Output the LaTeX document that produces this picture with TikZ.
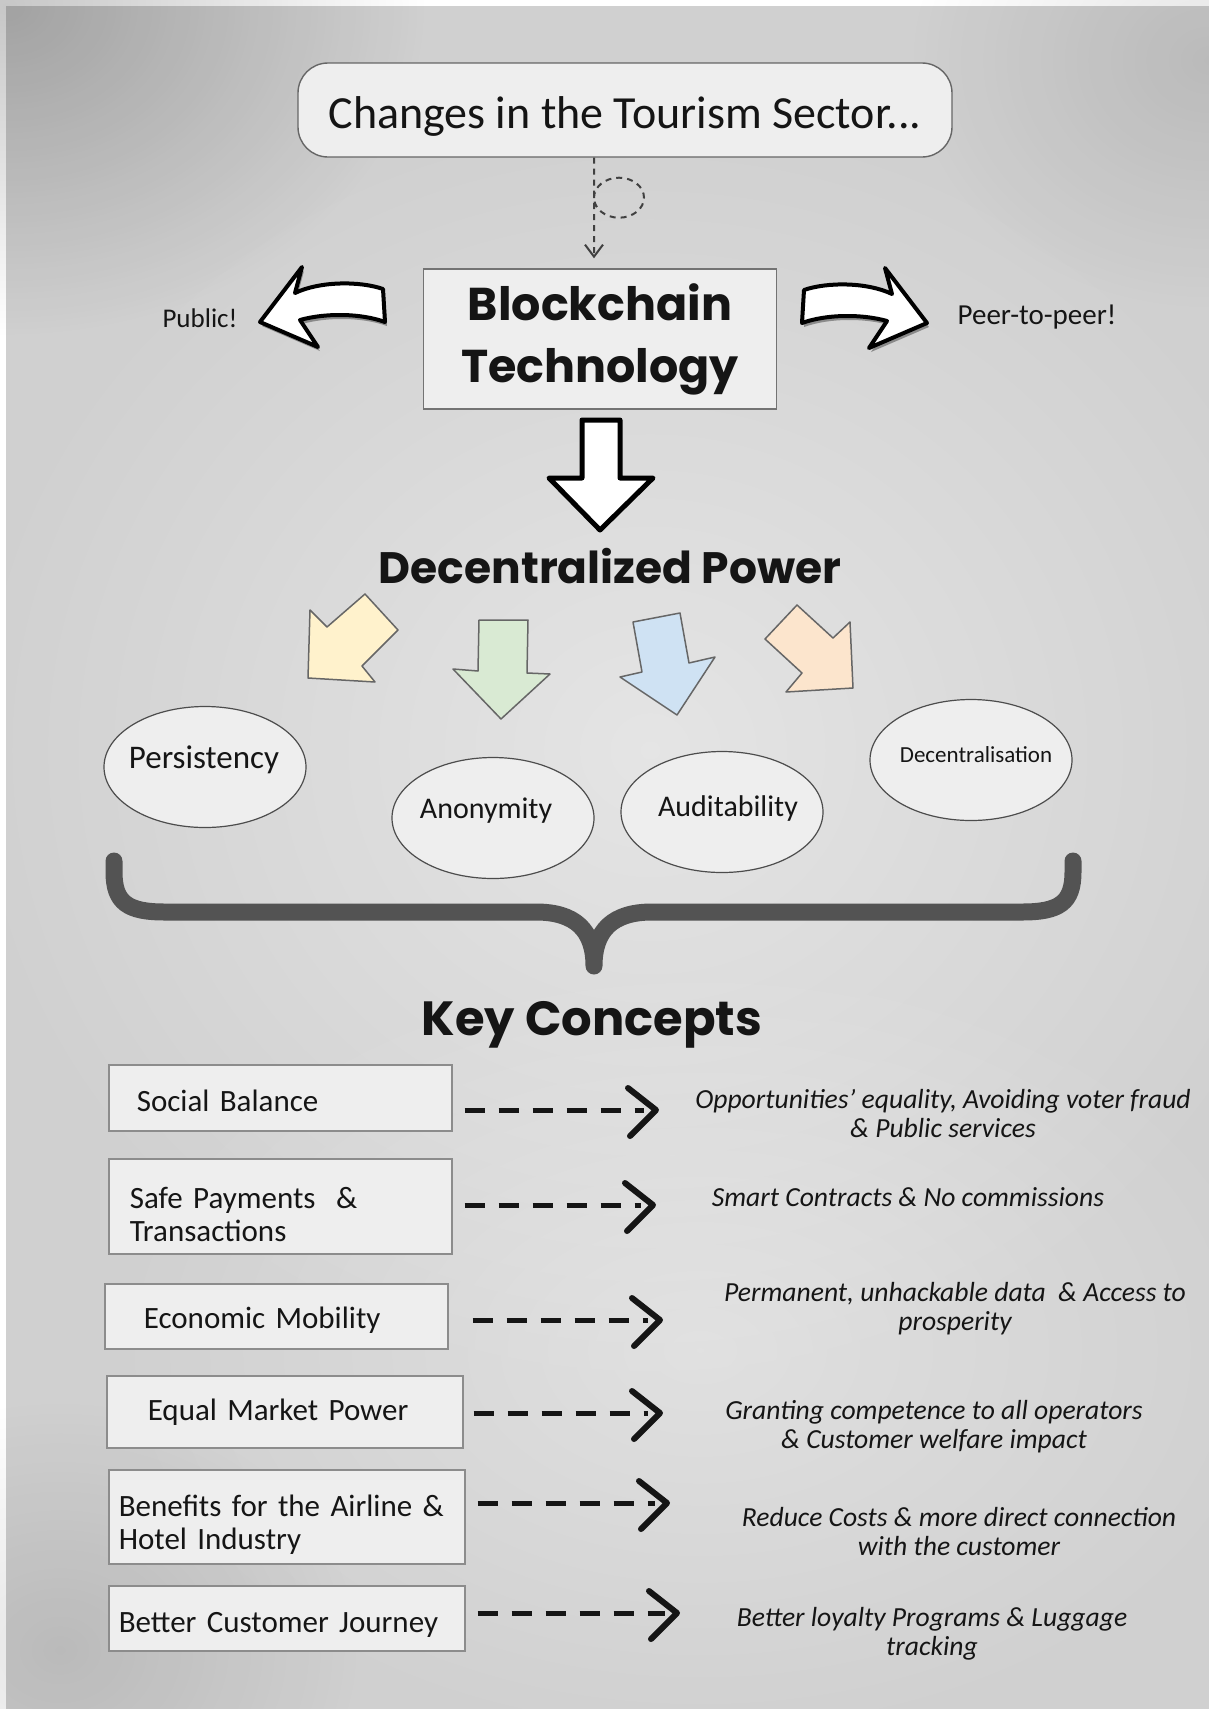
\documentclass[tikz,border=0pt]{standalone}
\usepackage{fontspec}
\usepackage{graphicx}
\setmainfont{Carlito}
\newfontfamily\headfont{Poppins}
\usetikzlibrary{shapes.geometric,arrows.meta,fadings}
\tikzfading[name=softfade, inner color=transparent!0, outer color=transparent!100]
\definecolor{bgcol}{HTML}{D0D0D0}
\definecolor{boxfill}{HTML}{EEEEEE}
\definecolor{ayellow}{HTML}{FFF2CC}
\definecolor{agreen}{HTML}{D9EAD3}
\definecolor{ablue}{HTML}{CFE2F3}
\definecolor{aorange}{HTML}{FCE5CD}
\definecolor{bracecol}{HTML}{535353}
\definecolor{ink}{HTML}{151515}
\begin{document}
\begin{tikzpicture}[x=0.5pt,y=-0.5pt,
  every node/.style={text=ink},
  titlebox/.style={draw=black!60, line width=0.7pt, fill=boxfill, rounded corners=15pt,
    minimum width=327pt, minimum height=47pt, inner sep=0pt, font=\fontsize{23}{26}\selectfont},
  bigbox/.style={draw=black!55, line width=0.7pt, fill=boxfill, minimum width=176.5pt,
    minimum height=70pt, inner sep=0pt, align=center, font=\headfont\bfseries\fontsize{23}{31}\selectfont},
  headline/.style={inner sep=0pt, font=\headfont\bfseries\fontsize{#1}{#1}\selectfont},
  ell/.style={ellipse, draw=black!70, line width=0.6pt, fill=boxfill, minimum width=101pt,
    minimum height=60.5pt, inner sep=0pt},
  elltext/.style={inner sep=0pt, font=\fontsize{#1}{#1}\selectfont},
  sidetext/.style={inner sep=0pt, font=\fontsize{#1}{#1}\selectfont},
  keybox/.style={draw=black!45, line width=0.8pt, fill=boxfill, anchor=north west, align=left,
    inner ysep=0pt, font=\fontsize{15.5}{15.5}\selectfont},
  restext/.style={align=center, inner sep=0pt, font=\itshape\fontsize{13.8}{14.5}\selectfont},
  dashline/.style={line width=2.5pt, dash pattern=on 10pt off 7pt, draw=ink},
  chev/.style={line width=3pt, line cap=round, line join=round, draw=ink},
  colarrow/.style={draw=black!60, line width=0.75pt, line join=round},
  whitearrow/.style={draw=black, line width=2pt, fill=white, line join=round},
  dashconn/.style={draw=black!75, line width=1pt, dash pattern=on 3pt off 2.5pt,
    -{Straight Barb[length=6pt,width=9pt,line width=1pt]}}
]
\useasboundingbox (0,0) rectangle (1209,1709);
% background paper
\fill[white] (0,0) rectangle (1209,1709);
\fill[bgcol] (6,6) rectangle (1209,1709);
\fill[white, opacity=0.45, path fading=softfade] (650,750) ellipse [x radius=700, y radius=650];
\fill[white, opacity=0.35, path fading=softfade] (700,1350) ellipse [x radius=600, y radius=400];
\fill[black, opacity=0.22, path fading=softfade] (6,6) ellipse [x radius=420, y radius=330];
\fill[black, opacity=0.10, path fading=softfade] (1209,60) ellipse [x radius=300, y radius=250];
\fill[black, opacity=0.10, path fading=softfade] (60,1650) ellipse [x radius=300, y radius=250];

% title
\node[titlebox] (title) at (625,110) {\rule{0pt}{22pt}Changes in the Tourism Sector...};
% blockchain box
\node[bigbox] (bc) at (600,339) {Blockchain\\Technology};
\draw[dashconn] ([xshift=-15.5pt]title.south) -- ++(0,40)
  arc[start angle=180, end angle=-180, x radius=25, y radius=20]
  -- ([xshift=-3pt,yshift=5pt]bc.north);

% side curved arrows (shadow then arrow)
\fill[black, opacity=0.35] (262,326) -- (304,271) -- (297,297) .. controls (322,285) and (362,285) .. (385,293)
  -- (387,326) .. controls (362,317) and (327,317) .. (302,324) -- (320,351) -- cycle;
\draw[whitearrow] (260,322) -- (302,267) -- (295,293) .. controls (320,281) and (360,281) .. (383,289)
  -- (385,322) .. controls (360,313) and (325,313) .. (300,320) -- (318,347) -- cycle;
\fill[black, opacity=0.35] (929,327) -- (887,272) -- (894,298) .. controls (869,286) and (829,286) .. (806,294)
  -- (804,327) .. controls (829,318) and (864,318) .. (889,325) -- (871,352) -- cycle;
\draw[whitearrow] (927,323) -- (885,268) -- (892,294) .. controls (867,282) and (827,282) .. (804,290)
  -- (802,323) .. controls (827,314) and (862,314) .. (887,321) -- (869,348) -- cycle;
\node[sidetext=13.5] (pub) at (200,318) {Public!};
\node[sidetext=14.5] (p2p) at (1037,317) {Peer-to-peer!};

% big down arrow
\draw[whitearrow, line width=2.5pt] (582,420) -- (620,420) -- (620,478) -- (653,478) -- (600,530)
  -- (549,478) -- (582,478) -- cycle;
\node[headline=22] (dp) at (610,566) {Decentralized Power};

% coloured arrows
\draw[colarrow, fill=ayellow] (310,610) -- (327,627) -- (365,594) -- (398,630) -- (362,666) -- (375,682) -- (308,678) -- cycle;
\draw[colarrow, fill=agreen] (479,620) -- (528,620) -- (527,673) -- (550,674) -- (501,719) -- (453,669) -- (478,671) -- cycle;
\draw[colarrow, fill=ablue] (633,622) -- (680,613) -- (689,663) -- (715,657) -- (677,715) -- (620,677) -- (642,672) -- cycle;
\draw[colarrow, fill=aorange] (797,605) -- (833,638) -- (850,622) -- (853,688) -- (786,692) -- (802,673) -- (765,639) -- cycle;

% ellipses
\node[ell] (e1) at (205,767) {};
\node[ell] (e2) at (493,818) {};
\node[ell] (e3) at (722,812) {};
\node[ell] (e4) at (971,760) {};
\node[elltext=16.5] (t1) at (204,760) {Persistency};
\node[elltext=15] (t2) at (486,811) {Anonymity};
\node[elltext=15] (t3) at (728,808) {Auditability};
\node[elltext=11.5] (t4) at (976,755) {Decentralisation};

% brace
\draw[bracecol, line width=8.5pt, line cap=round, line join=round]
  (114,861) -- (114,872) .. controls (114,903) and (128,912) .. (165,912) -- (536,912)
  .. controls (575,912) and (594,930) .. (594,966)
  .. controls (594,930) and (613,912) .. (652,912) -- (1022,912)
  .. controls (1059,912) and (1073,903) .. (1073,872) -- (1073,861);

\node[headline=24] (kc) at (592,1025) {Key Concepts};

% key concept boxes
\node[keybox, minimum width=171.5pt, minimum height=33pt, inner xsep=14pt, text width=143.5pt] (k1) at (108,1064) {\rule{0pt}{14pt}Social Balance};
\node[keybox, minimum width=171.5pt, minimum height=47.5pt, inner xsep=10.5pt, text width=150.5pt] (k2) at (108,1158) {\rule{0pt}{19pt}\mbox{Safe Payments~~\&}\\[1pt]Transactions};
\node[keybox, minimum width=171.5pt, minimum height=32.5pt, inner xsep=19.5pt, text width=132.5pt] (k3) at (104,1283) {\rule{0pt}{14.5pt}Economic Mobility};
\node[keybox, minimum width=178pt, minimum height=36pt, inner xsep=20.5pt, text width=137pt] (k4) at (106,1375) {Equal Market Power};
\node[keybox, minimum width=178pt, minimum height=47pt, inner xsep=5pt, text width=168pt] (k5) at (108,1469) {\rule{0pt}{19pt}\mbox{Benefits for the Airline \&}\\[1pt]Hotel Industry};
\node[keybox, minimum width=178pt, minimum height=32.5pt, inner xsep=5pt, text width=168pt] (k6) at (108,1585) {\rule{0pt}{17pt}\mbox{Better Customer Journey}};

% result texts
\node[restext] (r1) at (943,1114) {Opportunities' equality, Avoiding voter fraud\\\& Public services};
\node[restext] (r2) at (908,1197) {Smart Contracts \& No commissions};
\node[restext] (r3) at (955,1309) {Permanent, unhackable data~~\& Access to\\prosperity};
\node[restext] (r4) at (934,1427) {Granting competence to all operators\\\& Customer welfare impact};
\node[restext] (r5) at (959,1531) {Reduce Costs \& more direct connection\\with the customer};
\node[restext] (r6) at (932,1634) {Better loyalty Programs \& Luggage\\tracking};

% arrow tip coordinates
\coordinate (a1) at (656,1110);
\coordinate (a2) at (653,1205);
\coordinate (a3) at (660,1320);
\coordinate (a4) at (660,1413);
\coordinate (a5) at (667,1503);
\coordinate (a6) at (677,1613);

\foreach \k/\a/\s in {k1/a1/6pt, k2/a2/6pt, k3/a3/12pt, k4/a4/5pt, k5/a5/6pt, k6/a6/6pt}{
  \draw[dashline] ([xshift=\s]\k.east |- \a) -- ([xshift=-6pt]\a);
  \draw[chev] ([xshift=-14pt,yshift=11pt]\a) -- (\a) -- ([xshift=-13pt,yshift=-13pt]\a);
}
\end{tikzpicture}
\end{document}
